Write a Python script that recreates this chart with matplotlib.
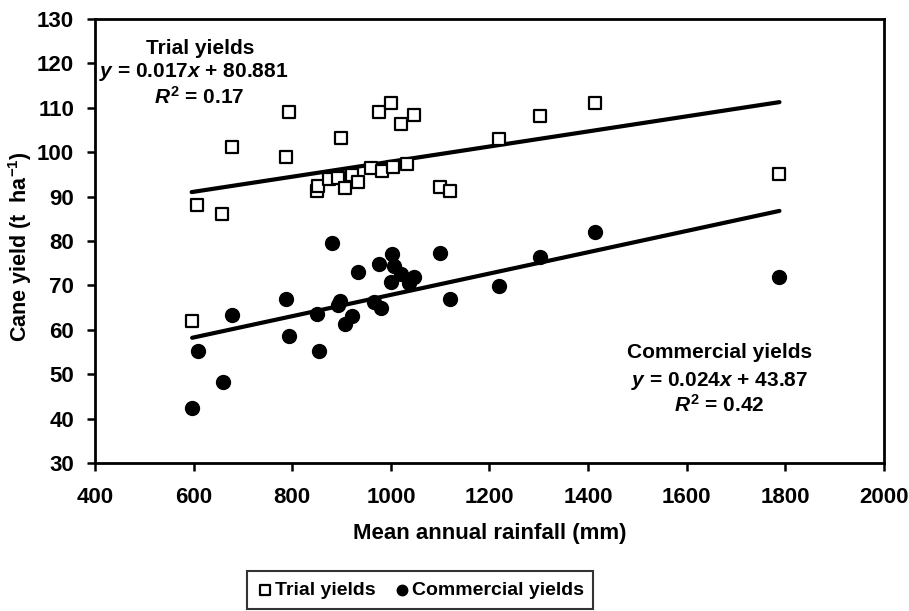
import matplotlib
matplotlib.use("Agg")
import matplotlib.pyplot as plt
import numpy as np

plt.rcParams['font.family'] = ['Liberation Sans', 'DejaVu Sans']
plt.rcParams['font.weight'] = 'bold'
plt.rcParams['mathtext.fontset'] = 'custom'
plt.rcParams['mathtext.it'] = 'Liberation Sans:italic'
plt.rcParams['mathtext.rm'] = 'Liberation Sans:bold'
plt.rcParams['mathtext.bf'] = 'Liberation Sans:bold'

# Trial yields (hollow squares)
trial_rain = [596, 606, 658, 677, 787, 793, 851, 853, 875, 893, 899, 906, 921, 933,
              960, 975, 982, 1000, 1005, 1020, 1033, 1046, 1100, 1120, 1220, 1303, 1413, 1788]
trial_yield = [62.0, 88.1, 86.0, 101.2, 99.0, 109.0, 91.2, 92.5, 93.9, 94.3, 103.2, 92.0, 94.9, 93.3,
               96.5, 109.0, 95.8, 111.0, 96.6, 106.4, 97.3, 108.4, 92.1, 91.3, 103.0, 108.1, 111.0, 95.0]

# Commercial yields (filled circles)
comm_rain = [597, 608, 659, 677, 787, 793, 850, 855, 880, 893, 897, 906, 921, 933,
             965, 975, 980, 1000, 1003, 1007, 1020, 1036, 1047, 1100, 1120, 1220, 1303, 1413, 1788]
comm_yield = [42.3, 55.3, 48.3, 63.4, 67.0, 58.6, 63.6, 55.3, 79.6, 65.6, 66.5, 61.2, 63.2, 73.1,
              66.2, 74.8, 64.9, 70.7, 77.0, 74.3, 72.5, 70.6, 72.0, 77.3, 67.0, 69.8, 76.3, 82.0, 72.0]

trial_fit = (0.017, 80.881)
comm_fit = (0.024, 43.87)

fig = plt.figure(figsize=(9.09, 6.11), dpi=100)
ax = fig.add_axes([95/909, 1-463/611, (884-95)/909, (463-19)/611])

ax.scatter(trial_rain, trial_yield, marker='s', s=85, facecolors='white',
           edgecolors='black', linewidths=1.6, zorder=3, label='Trial yields')
ax.scatter(comm_rain, comm_yield, marker='o', s=100, facecolors='black',
           edgecolors='black', linewidths=1, zorder=3, label='Commercial yields')

for rain, (m, b) in [(trial_rain, trial_fit), (comm_rain, comm_fit)]:
    xs = np.array([min(rain), max(rain)])
    ax.plot(xs, m*xs + b, color='black', lw=3.0, solid_capstyle='round', zorder=2)

ax.set_xlim(400, 2000)
ax.set_ylim(30, 130)
ax.set_xticks(np.arange(400, 2001, 200))
ax.set_yticks(np.arange(30, 131, 10))
for s in ax.spines.values():
    s.set_linewidth(2)
ax.tick_params(direction='out', length=6, width=1.8, labelsize=16)
ax.tick_params(axis='y', pad=9)
ax.tick_params(axis='x', pad=11)
for lab in ax.get_xticklabels() + ax.get_yticklabels():
    lab.set_fontweight('bold')

def fig_text(xp, yp, s, size=15, **kw):
    fig.text(xp/909, 1-yp/611, s, ha='center', va='center', fontsize=size, **kw)

fig_text(490, 533, 'Mean annual rainfall (mm)', size=16, fontweight='bold')
fig_text(20, 247, 'Cane yield (t  ha$^{-1}$)', size=15.5, fontweight='bold', rotation=90)

fig_text(200, 48, 'Trial yields', fontweight='bold')
fig_text(194, 72, r'$\mathit{y}$' + ' = 0.017' + r'$\mathit{x}$' + ' + 80.881', fontweight='bold')
fig_text(199, 97, r'$\mathit{R}^{2}$' + ' = 0.17', fontweight='bold')
fig_text(720, 353, 'Commercial yields', fontweight='bold')
fig_text(720, 381, r'$\mathit{y}$' + ' = 0.024' + r'$\mathit{x}$' + ' + 43.87', fontweight='bold')
fig_text(719, 405, r'$\mathit{R}^{2}$' + ' = 0.42', fontweight='bold')

leg = fig.legend(loc='center', bbox_to_anchor=(420/909, 1-590/611), ncol=2,
                 frameon=True, fancybox=False, edgecolor='black', fontsize=14,
                 handletextpad=0.05, columnspacing=0.9, handlelength=0.9,
                 borderpad=0.5, markerscale=0.75)
leg.get_frame().set_linewidth(1.5)
for t in leg.get_texts():
    t.set_fontweight('bold')

fig.savefig('out.png', dpi=100)
